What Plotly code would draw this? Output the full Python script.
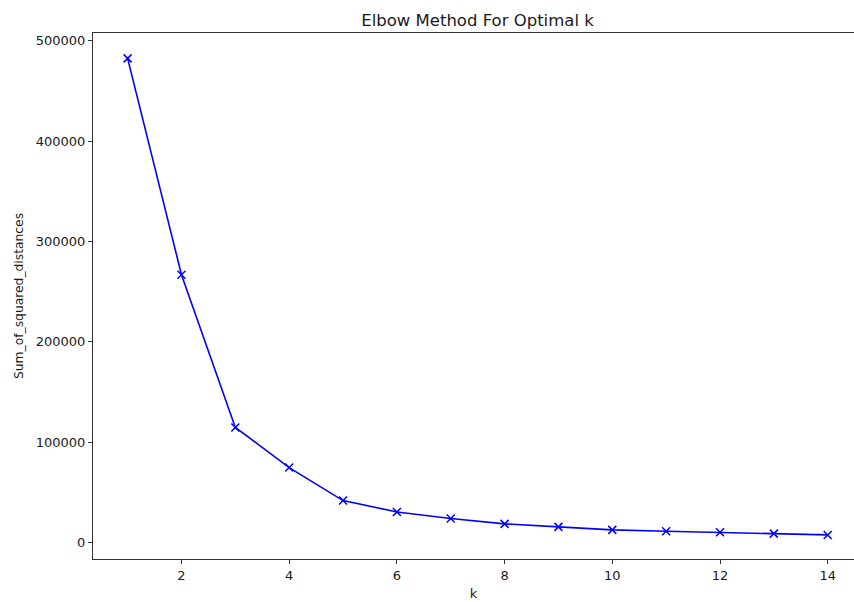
import plotly.graph_objects as go

k_values = list(range(1, 15))
sum_sq = [482500, 267000, 114800, 74800, 41900, 30600, 24000, 18700, 15700, 12700, 11400, 10400, 9000, 7700]
y_ticks = [0, 100000, 200000, 300000, 400000, 500000]
x_ticks = [2, 4, 6, 8, 10, 12, 14]

fig = go.Figure()
fig.add_trace(go.Scatter(
    x=k_values, y=sum_sq, mode="lines+markers",
    line=dict(color="#0000ff", width=1.6),
    marker=dict(symbol="x-thin", size=8, line=dict(color="#0000ff", width=1.5), color="#0000ff"),
    showlegend=False,
))

tick_font = dict(family="DejaVu Sans", size=13, color="#1a1a1a")
fig.update_layout(
    width=854, height=602,
    margin=dict(l=93, r=0, t=33, b=43),
    paper_bgcolor="white", plot_bgcolor="white",
    font=tick_font,
    title=dict(text="Elbow Method For Optimal k", x=477.5 / 854, xanchor="center",
               y=1 - 20 / 602, yanchor="middle", yref="container",
               font=dict(family="DejaVu Sans", size=16.5, color="#1a1a1a")),
)
fig.update_xaxes(
    range=[0.357, 14.488], tickvals=x_ticks, ticktext=[str(v) for v in x_ticks],
    showgrid=False, zeroline=False, showline=True, linecolor="#333333", linewidth=1,
    mirror=True, ticks="outside", ticklen=4, tickcolor="#333333", tickwidth=1,
    tickfont=tick_font,
    title=dict(text="k", font=dict(family="DejaVu Sans", size=13, color="#1a1a1a"), standoff=7),
)
fig.update_yaxes(
    range=[-16300, 507800], tickvals=y_ticks, ticktext=[str(v) for v in y_ticks],
    showgrid=False, zeroline=False, showline=True, linecolor="#333333", linewidth=1,
    ticks="outside", ticklen=4, tickcolor="#333333", tickwidth=1,
    tickfont=tick_font,
    title=dict(text="Sum_of_squared_distances", font=dict(family="DejaVu Sans", size=12.3, color="#1a1a1a"), standoff=9),
)

fig.write_html("out.html")
